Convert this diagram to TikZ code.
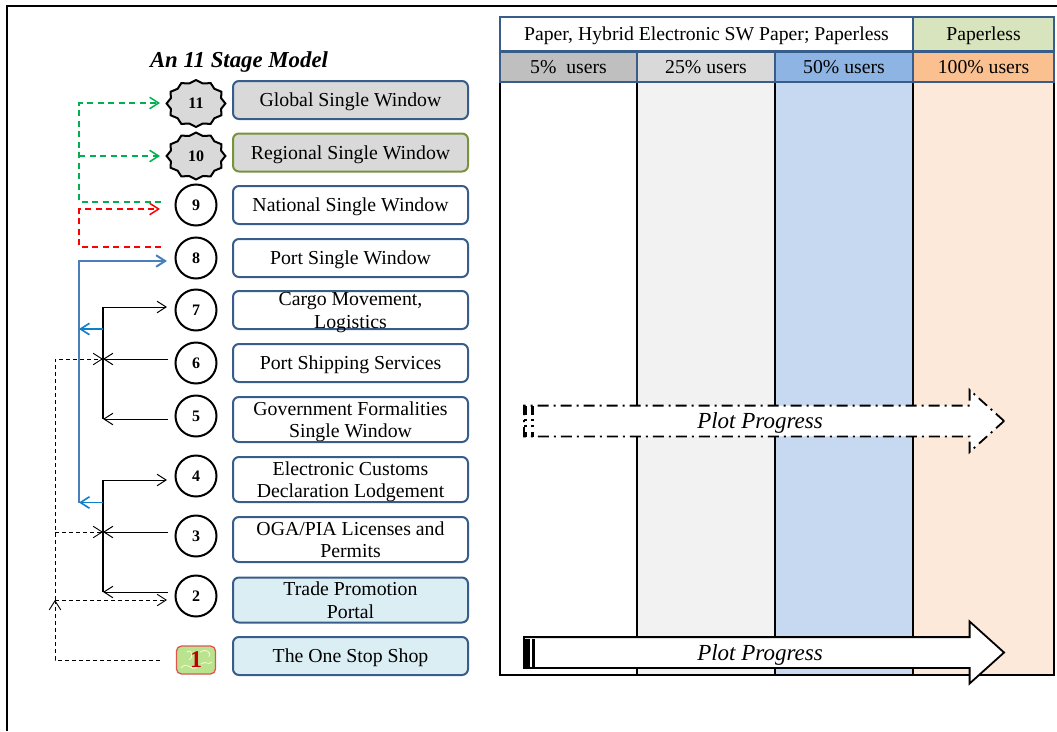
\documentclass[tikz,border=0pt]{standalone}
\usepackage{fontspec}
\setmainfont{Liberation Serif}
\usetikzlibrary{arrows.meta,shapes.geometric,shapes.arrows}

\definecolor{boxblue}{HTML}{385D8A}
\definecolor{boxolive}{HTML}{77933C}
\definecolor{boxgray}{HTML}{D9D9D9}
\definecolor{boxpale}{HTML}{DBEEF4}
\definecolor{linkgreen}{HTML}{00B050}
\definecolor{linkblue}{HTML}{4A7EBB}
\definecolor{linksky}{HTML}{0F7FC8}
\definecolor{iconfill}{HTML}{B9E38F}
\definecolor{iconline}{HTML}{E0554F}
\definecolor{iconred}{HTML}{C00000}
\definecolor{colgray}{HTML}{F2F2F2}
\definecolor{colblue}{HTML}{C6D9F1}
\definecolor{colorange}{HTML}{FDE9D9}
\definecolor{headgreen}{HTML}{D7E4BD}
\definecolor{headgray}{HTML}{BFBFBF}
\definecolor{headblue}{HTML}{8EB4E3}
\definecolor{headorange}{HTML}{FAC090}

\tikzset{
    >={Straight Barb[length=9pt,width=11.5pt]},
    stagebox/.style={draw=boxblue, line width=2pt, rounded corners=6pt, minimum width=235pt, inner sep=0pt, align=center, text depth=-3pt, font=\fontsize{19.8}{22.5}\selectfont},
    stagetext/.style={inner sep=0pt, align=center, text depth=-3pt, font=\fontsize{19.8}{22.5}\selectfont},
    stagenum/.style={circle, draw, line width=2pt, minimum size=41pt, inner sep=0pt, font=\fontsize{16}{16}\selectfont\bfseries},
    burstnum/.style={star, star points=12, star point ratio=1.13, draw, line width=2pt, fill=boxgray, minimum size=47pt, inner sep=0pt, xscale=1.25, transform shape},
    burstlabel/.style={inner sep=0pt, font=\fontsize{16}{16}\selectfont\bfseries},
    headcell/.style={draw=boxblue, line width=2pt, inner sep=0pt, text depth=-2pt, font=\fontsize{19.7}{19.7}\selectfont},
    bodycell/.style={inner sep=0pt, minimum height=594pt},
    plotarrow/.style={single arrow, single arrow tip angle=84, draw, fill=white, line width=1.8pt, minimum height=480pt, minimum width=62pt, single arrow head extend=9pt, inner sep=0pt, text depth=-2pt, font=\fontsize{23}{23}\selectfont\itshape},
    greenlink/.style={->, dash pattern=on 6pt off 4.5pt, linkgreen, line width=1.5pt},
    redlink/.style={->, dash pattern=on 6pt off 4.5pt, red, line width=1.5pt},
    thinlink/.style={->, black, line width=1pt},
    skylink/.style={->, linksky, line width=1.6pt},
    dashlink/.style={->, black, dash pattern=on 4pt off 3pt, line width=0.9pt}
}

\begin{document}
\begin{tikzpicture}[x=1pt, y=-1pt]
    \useasboundingbox (0,0) rectangle (1057,731);

    % Outer frame
    \coordinate (framea) at (7,731);
    \coordinate (frameb) at (7,6);
    \coordinate (framec) at (1057,6);
    \draw[line width=1.8pt] (framea) -- (frameb) -- (framec);

    % Title
    \node[font=\fontsize{22.8}{22.8}\selectfont\bfseries\itshape, text depth=-2pt] (title) at (239,60) {An 11 Stage Model};

    % Stage boxes
    \node[stagebox, minimum height=38pt, fill=boxgray] (b11) at (350.5,100) {Global Single Window};
    \node[stagebox, minimum height=38pt, fill=boxgray, draw=boxolive] (b10) at (350.5,152.5) {Regional Single Window};
    \node[stagebox, minimum height=38pt] (b9) at (350.5,205) {National Single Window};
    \node[stagebox, minimum height=38pt] (b8) at (350.5,258) {Port Single Window};
    \node[stagebox, minimum height=38pt] (b7) at (350.5,310) {};
    \node[stagetext] (t7) at (350.5,310.5) {Cargo Movement,\\Logistics};
    \node[stagebox, minimum height=38pt] (b6) at (350.5,363) {Port Shipping Services};
    \node[stagebox, minimum height=45pt] (b5) at (350.5,419.5) {Government Formalities\\Single Window};
    \node[stagebox, minimum height=45pt] (b4) at (350.5,479.5) {Electronic Customs\\Declaration Lodgement};
    \node[stagebox, minimum height=45pt] (b3) at (350.5,539.5) {OGA/PIA Licenses and\\Permits};
    \node[stagebox, minimum height=45pt, fill=boxpale] (b2) at (350.5,600) {Trade Promotion\\Portal};
    \node[stagebox, minimum height=38pt, fill=boxpale] (b1) at (350.5,656) {The One Stop Shop};

    % Stage numbers
    \node[burstnum] (n11) at (196,103.5) {};
    \node[burstlabel] (l11) at (n11) {11};
    \node[burstnum] (n10) at (196,156) {};
    \node[burstlabel] (l10) at (n10) {10};
    \node[stagenum] (n9) at (196,205) {9};
    \node[stagenum] (n8) at (196,258) {8};
    \node[stagenum] (n7) at (196,310) {7};
    \node[stagenum] (n6) at (196,363) {6};
    \node[stagenum] (n5) at (196,416) {5};
    \node[stagenum] (n4) at (196,476) {4};
    \node[stagenum] (n3) at (196,536) {3};
    \node[stagenum] (n2) at (196,596) {2};
    \node[draw=iconline, line width=1.3pt, fill=iconfill, rounded corners=5pt, minimum width=39pt, minimum height=28pt, inner sep=0pt] (n1) at (196,660) {};
    \draw[white!85!yellow, line width=0.7pt] (181,668) .. controls (188,660) and (190,672) .. (197,667);
    \draw[white!85!yellow, line width=0.7pt] (200,652) .. controls (205,648) and (212,652) .. (209,657);
    \draw[white!85!yellow, line width=0.7pt] (187,652) .. controls (192,648) and (194,658) .. (189,660);
    \draw[white!85!yellow, line width=0.7pt] (201,664) .. controls (206,660) and (208,666) .. (212,662);
    \node[text=iconred, inner sep=0pt, font=\fontsize{24}{24}\selectfont\bfseries] (l1) at (n1) {1};

    % Green and red dashed links
    \coordinate (gs) at (161,202);
    \coordinate (gc) at (79,202);
    \coordinate (gm) at (79,156);
    \coordinate (gt) at (79,103);
    \coordinate (gh11) at (160,103);
    \coordinate (gh10) at (160,156);
    \draw[greenlink] (gs) -- (gc) -- (gt) -- (gh11);
    \draw[greenlink] (gm) -- (gh10);
    \coordinate (rs) at (161,247);
    \coordinate (rc) at (79,247);
    \coordinate (rt) at (79,209);
    \coordinate (rh) at (160,209);
    \draw[redlink] (rs) -- (rc) -- (rt) -- (rh);

    % Blue link to stage 8
    \coordinate (bb) at (79,502.5);
    \coordinate (bt) at (79,261);
    \coordinate (bh) at (167,261);
    \draw[->, linkblue, line width=2pt] (bb) -- (bt) -- (bh);

    % Upper bracket, stages 5 to 7
    \coordinate (ua) at (103,307);
    \coordinate (uh) at (167,307);
    \coordinate (um) at (103,359);
    \coordinate (ub) at (103,419);
    \coordinate (us) at (168,359);
    \coordinate (ut) at (168,419);
    \draw[line width=1.6pt] (ua) -- (ub);
    \draw[thinlink] (ua) -- (uh);
    \draw[thinlink] (us) -- (um);
    \draw[thinlink] (ut) -- (ub);
    \coordinate (usky) at (103,329);
    \coordinate (bsky) at (79,329);
    \draw[skylink] (usky) -- (bsky);

    % Lower bracket, stages 2 to 4
    \coordinate (la) at (103,480);
    \coordinate (lh) at (167,480);
    \coordinate (lm) at (103,532);
    \coordinate (lb) at (103,592);
    \coordinate (ls) at (168,532);
    \coordinate (lt) at (168,592);
    \draw[line width=1.6pt] (la) -- (lb);
    \draw[thinlink] (la) -- (lh);
    \draw[thinlink] (ls) -- (lm);
    \draw[thinlink] (lt) -- (lb);
    \coordinate (lsky) at (103,502.5);
    \draw[skylink] (lsky) -- (bb);

    % Thin dashed links from stage 1
    \coordinate (ds) at (160,660);
    \coordinate (dc) at (55,660);
    \coordinate (dj) at (55,600);
    \coordinate (dh) at (167,600);
    \coordinate (dm) at (55,532);
    \coordinate (dt) at (55,359);
    \draw[dashlink] (ds) -- (dc) -- (dj);
    \draw[dashlink] (dj) -- (dh);
    \draw[dashlink] (dj) -- (dt) -- (um);
    \draw[dashlink] (dm) -- (lm);

    % Body columns
    \node[bodycell, minimum width=137pt, fill=white] (c1) at (568.5,378) {};
    \node[bodycell, minimum width=138pt, fill=colgray] (c2) at (706,378) {};
    \node[bodycell, minimum width=138pt, fill=colblue] (c3) at (844,378) {};
    \node[bodycell, minimum width=141pt, fill=colorange] (c4) at (983.5,378) {};
    \draw[line width=2.2pt] (c1.north east) -- (c1.south east);
    \draw[line width=2.2pt] (c2.north east) -- (c2.south east);
    \draw[line width=2.2pt] (c3.north east) -- (c3.south east);
    \draw[line width=2.2pt] (c1.north west) -- (c1.south west) -- (c4.south east) -- (c4.north east);

    % Table header
    \node[headcell, minimum width=413pt, minimum height=34pt, fill=white] (h1) at (706.5,34) {Paper, Hybrid Electronic SW Paper; Paperless};
    \node[headcell, minimum width=141pt, minimum height=34pt, fill=headgreen] (h2) at (983.5,34) {Paperless};
    \node[headcell, minimum width=137pt, minimum height=30pt, fill=headgray] (u1) at (568.5,66.5) {5\%\ \ users};
    \node[headcell, minimum width=138pt, minimum height=30pt, fill=boxgray] (u2) at (706,66.5) {25\% users};
    \node[headcell, minimum width=138pt, minimum height=30pt, fill=headblue] (u3) at (844,66.5) {50\% users};
    \node[headcell, minimum width=141pt, minimum height=30pt, fill=headorange] (u4) at (983.5,66.5) {100\% users};

    % Plot progress arrows
    \node[plotarrow, dash pattern=on 11pt off 5pt on 2pt off 5pt] (pa) at (755.5,421) {\hspace*{9pt}Plot Progress};
    \node[plotarrow] (pb) at (755.5,652.5) {\hspace*{9pt}Plot Progress};

    % Striped arrow tails
    \fill (pb.before tail) rectangle ++(7,-30);
    \fill (pb.before tail) ++(9,0) rectangle ++(3,-30);
    \draw[line width=3pt, dash pattern=on 5pt off 5pt on 2pt off 4pt on 2pt off 4pt on 10pt off 2pt] (pa.before tail) ++(2,0) -- ++(0,-31);
    \draw[line width=3pt, dash pattern=on 5pt off 5pt on 2pt off 4pt on 2pt off 4pt on 10pt off 2pt] (pa.before tail) ++(9,0) -- ++(0,-31);
\end{tikzpicture}
\end{document}
